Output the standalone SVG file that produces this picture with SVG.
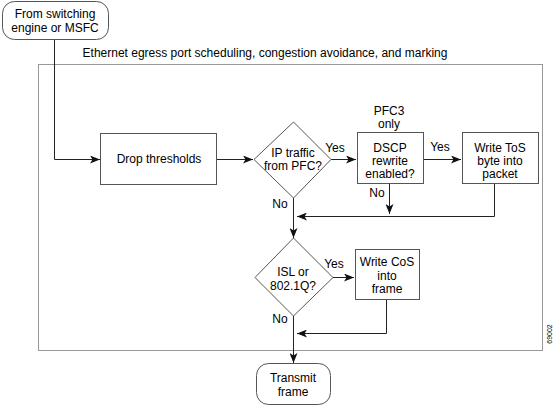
<svg xmlns="http://www.w3.org/2000/svg" width="557" height="406" viewBox="0 0 557 406">
<style>
text{font-family:"Liberation Sans",Arial,sans-serif;font-size:12px;fill:#000;text-anchor:middle}
.n{fill:#fff;stroke:#555;stroke-width:1}
.c{fill:none;stroke:#222;stroke-width:1}
.frame{fill:none;stroke:#999;stroke-width:1}
</style>
<defs>
<marker id="ah" viewBox="0 0 10 8" refX="10" refY="4" markerWidth="10" markerHeight="8" markerUnits="userSpaceOnUse" orient="auto">
<path d="M0,0 L10,4 L0,8 L2.5,4 Z" fill="#111"/>
</marker>
</defs>
<rect width="557" height="406" fill="#fff"/>
<g id="container">
<rect class="frame" x="38.5" y="64.5" width="504" height="286"/>
<text x="265" y="57">Ethernet egress port scheduling, congestion avoidance, and marking</text>
</g>
<g id="connectors">
<path class="c" d="M54.5,40 V159.5 H100" marker-end="url(#ah)"/>
<path class="c" d="M217,159.5 H253" marker-end="url(#ah)"/>
<path class="c" d="M331,159.5 H356" marker-end="url(#ah)"/>
<path class="c" d="M424,159.5 H461" marker-end="url(#ah)"/>
<path class="c" d="M389.5,184 V214" marker-end="url(#ah)"/>
<path class="c" d="M494.5,184 V216.5 H297" marker-end="url(#ah)"/>
<path class="c" d="M293.5,198 V238" marker-end="url(#ah)"/>
<path class="c" d="M333,277.5 H354" marker-end="url(#ah)"/>
<path class="c" d="M386.5,299 V333.5 H297" marker-end="url(#ah)"/>
<path class="c" d="M293.5,316 V363" marker-end="url(#ah)"/>
<text x="335" y="152">Yes</text>
<text x="440" y="151">Yes</text>
<text x="377" y="197">No</text>
<text x="280" y="208">No</text>
<text x="334" y="268">Yes</text>
<text x="280" y="323">No</text>
</g>
<g id="source">
<rect class="n" x="2.5" y="1.5" width="106" height="38" rx="12"/>
<text x="55" y="18">From switching</text>
<text x="55" y="32">engine or MSFC</text>
</g>
<g id="drop">
<rect class="n" x="100.5" y="133.5" width="116" height="51"/>
<text x="159" y="163">Drop thresholds</text>
</g>
<g id="ipdecision">
<polygon class="n" points="293.5,122 331,159.5 293.5,198 254,159.5"/>
<text x="293" y="157">IP traffic</text>
<text x="293" y="170">from PFC?</text>
</g>
<g id="pfc3note">
<text x="389" y="115">PFC3</text>
<text x="389" y="128">only</text>
</g>
<g id="dscp">
<rect class="n" x="357.5" y="132.5" width="66" height="51"/>
<text x="390" y="152">DSCP</text>
<text x="390" y="165">rewrite</text>
<text x="390" y="178">enabled?</text>
</g>
<g id="tos">
<rect class="n" x="462.5" y="132.5" width="76" height="51"/>
<text x="500" y="152">Write ToS</text>
<text x="500" y="165">byte into</text>
<text x="500" y="178">packet</text>
</g>
<g id="isl">
<polygon class="n" points="293.5,238 333,277.5 293.5,316 255,277.5"/>
<text x="293" y="276">ISL or</text>
<text x="293" y="290">802.1Q?</text>
</g>
<g id="cos">
<rect class="n" x="355.5" y="249.5" width="64" height="50"/>
<text x="387" y="266">Write CoS</text>
<text x="387" y="280">into</text>
<text x="387" y="293">frame</text>
</g>
<g id="transmit">
<rect class="n" x="256.5" y="363.5" width="74" height="41" rx="12"/>
<text x="293" y="382">Transmit</text>
<text x="293" y="396">frame</text>
</g>
<text x="0" y="0" transform="translate(552,334) rotate(-90)" style="font-size:7px">69002</text>
</svg>
